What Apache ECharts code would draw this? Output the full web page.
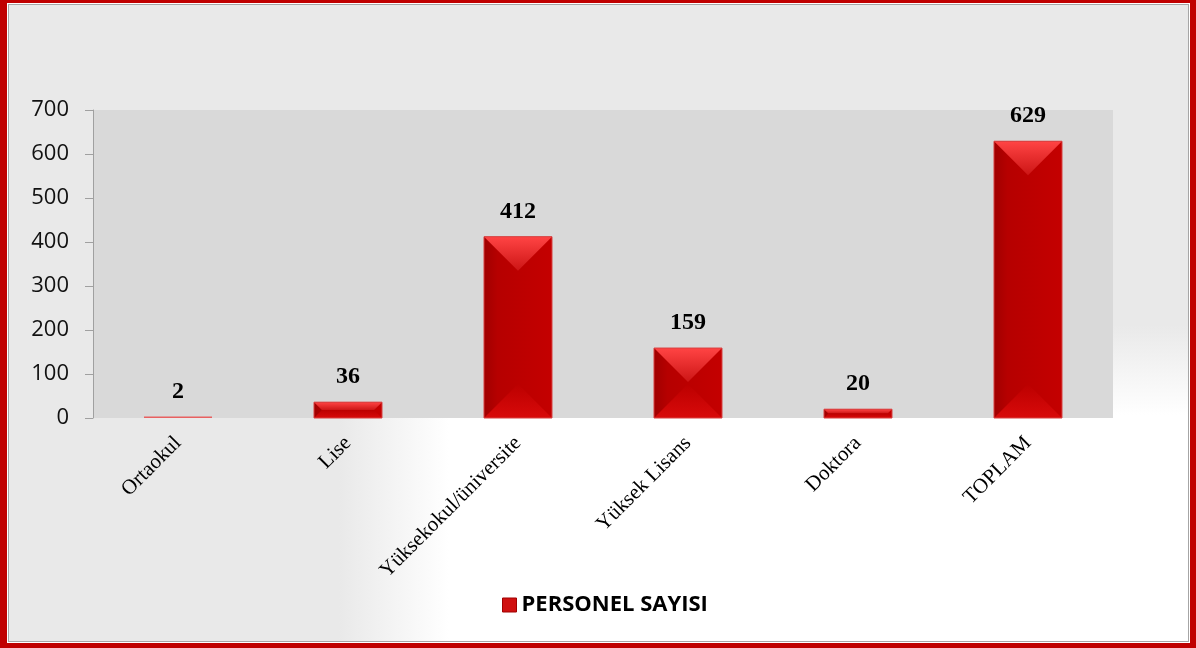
<!DOCTYPE html>
<html>
<head>
<meta charset="utf-8">
<script src="https://cdn.jsdelivr.net/npm/echarts@6/dist/echarts.min.js"></script>
<style>
html,body{margin:0;padding:0;}
#frame{position:relative;width:1196px;height:648px;box-sizing:border-box;
  border-style:solid;border-color:#c00000;border-width:3px 6px 5px 7px;background:#fff;}
#inner{position:absolute;left:1px;top:1px;right:1px;bottom:1px;border:1px solid #a6a6a6;
  background:
    linear-gradient(to bottom, #e9e9e9 320px, rgba(233,233,233,0) 410px),
    linear-gradient(to right, #e9e9e9 330px, rgba(233,233,233,0) 440px),
    #ffffff;}
#myChart{position:absolute;left:0;top:0;width:1196px;height:648px;}
</style>
</head>
<body>
<div id="frame"><div id="inner"></div></div>
<div id="myChart"></div>
<script>
var categories = ['Ortaokul', 'Lise', 'Yüksekokul/üniversite', 'Yüksek Lisans', 'Doktora', 'TOPLAM'];
var personel = [2, 36, 412, 159, 20, 629];
var yTicks = [0, 100, 200, 300, 400, 500, 600, 700];

var myChart = echarts.init(document.getElementById('myChart'));

// gövde rengi
var barColor = new echarts.graphic.LinearGradient(0, 0, 1, 0, [
  { offset: 0, color: '#a00000' },
  { offset: 0.2, color: '#b60000' },
  { offset: 1, color: '#c40000' }
]);

// her çubuğun üstüne eğimli kenar üçgenleri
function renderBevel(params, api) {
  var i = api.value(0), v = api.value(1);
  var top = api.coord([i, v]), base = api.coord([i, 0]);
  var w = api.size([1, 0])[0] * 0.4;
  var x0 = top[0] - w / 2, x1 = top[0] + w / 2;
  var h = base[1] - top[1];
  if (h < 2) {
    return {
      type: 'rect',
      shape: { x: x0, y: base[1] - 1.5, width: w, height: 1.5 },
      style: { fill: '#e86060' }
    };
  }
  var d = Math.min(w / 2, h / 2);
  return {
    type: 'group',
    silent: true,
    children: [
      {
        type: 'polygon',
        shape: { points: [[x0, top[1]], [x1, top[1]], [x1 - d, top[1] + d], [x0 + d, top[1] + d]] },
        style: {
          fill: new echarts.graphic.LinearGradient(0, 0, 0, 1, [
            { offset: 0, color: '#ff4444' },
            { offset: 1, color: '#cc1515' }
          ])
        }
      },
      {
        type: 'polygon',
        shape: { points: [[x0, base[1]], [x1, base[1]], [x1 - d, base[1] - d], [x0 + d, base[1] - d]] },
        style: {
          fill: new echarts.graphic.LinearGradient(0, 1, 0, 0, [
            { offset: 0, color: '#d80a0a' },
            { offset: 1, color: '#bc0000' }
          ])
        }
      },
      {
        type: 'rect',
        shape: { x: x0, y: top[1], width: w, height: h },
        style: { fill: 'none', stroke: '#d84040', lineWidth: 1 }
      }
    ]
  };
}

var bevelData = [];
for (var i = 0; i < personel.length; i++) {
  bevelData.push([i, personel[i]]);
}

myChart.setOption({
  backgroundColor: 'transparent',
  animation: false,
  grid: { left: 93, right: 83, top: 110, bottom: 230, show: true, backgroundColor: '#d9d9d9', borderWidth: 0 },
  legend: {
    data: ['PERSONEL SAYISI'],
    left: 497,
    top: 589,
    itemWidth: 14,
    itemHeight: 14,
    itemGap: 7,
    icon: 'rect',
    itemStyle: { color: '#d01010', borderColor: '#a00000', borderWidth: 1 },
    textStyle: { fontFamily: 'Open Sans', fontWeight: 'bold', fontSize: 22, color: '#000' }
  },
  xAxis: {
    type: 'category',
    data: categories,
    axisLine: { show: false },
    axisTick: { show: false },
    axisLabel: {
      rotate: 45,
      margin: 22,
      interval: 0,
      fontFamily: 'Liberation Serif',
      fontSize: 21,
      color: '#000'
    }
  },
  yAxis: {
    type: 'value',
    min: 0,
    max: 700,
    interval: 100,
    axisLine: { show: true, lineStyle: { color: '#a0a0a0' } },
    axisTick: { show: true, length: 8, lineStyle: { color: '#a0a0a0' } },
    splitLine: { show: false },
    axisLabel: {
      margin: 24,
      fontFamily: 'Open Sans',
      fontSize: 22,
      color: '#111',
      formatter: function (v) { return yTicks.indexOf(v) >= 0 ? String(v) : ''; }
    }
  },
  series: [
    {
      name: 'PERSONEL SAYISI',
      type: 'bar',
      data: personel,
      barWidth: '40%',
      itemStyle: { color: barColor },
      label: {
        show: true,
        position: 'top',
        distance: 13,
        fontFamily: 'Liberation Serif',
        fontWeight: 'bold',
        fontSize: 24,
        color: '#000'
      }
    },
    {
      name: 'bevel',
      type: 'custom',
      renderItem: renderBevel,
      data: bevelData,
      silent: true,
      z: 3
    }
  ]
});
</script>
</body>
</html>
